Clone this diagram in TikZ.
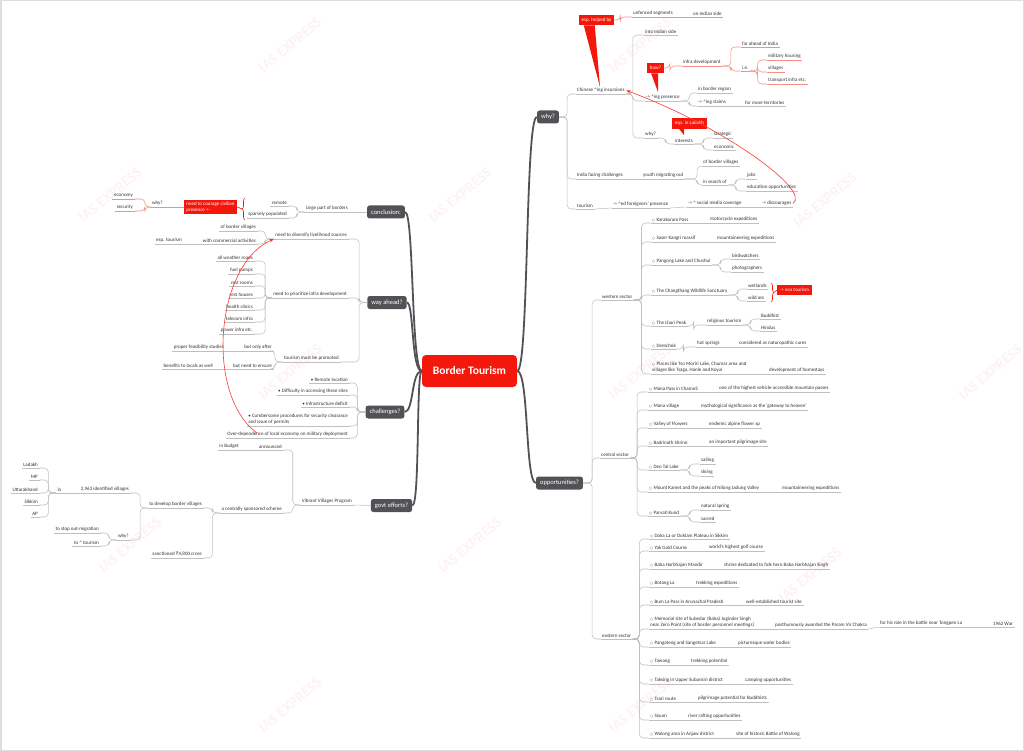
\documentclass[tikz,border=0pt]{standalone}
\usepackage{fontspec}
\setmainfont{Carlito}
\newfontfamily\symfont{DejaVu Sans}
\newfontfamily\rupeefont{Noto Sans}
\usetikzlibrary{
    arrows.meta,
    calc,
    decorations.pathreplacing
}
\definecolor{ink}{RGB}{50,50,50}
\definecolor{wiregrey}{RGB}{192,192,192}
\definecolor{hubgrey}{RGB}{82,82,86}
\definecolor{alert}{RGB}{244,24,12}
\definecolor{salmon}{RGB}{246,142,130}
\definecolor{framegrey}{RGB}{222,222,222}
\definecolor{stampred}{RGB}{254,242,242}

\newcommand{\circbul}{{\symfont\fontsize{3.4}{4}\selectfont ○}\hspace{1.4pt}}
\newcommand{\up}{\textasciicircum}
\newcommand{\rupee}{{\rupeefont ₹}}

\tikzset{
    line cap=round,
    line join=round,
    leafbase/.style={
        font=\fontsize{5}{6}\selectfont,
        text=ink,
        inner xsep=1.5pt,
        inner ysep=1.2pt,
        align=left
    },
    uline/.style={
        append after command={(\tikzlastnode.south west) edge[draw=#1, line width=0.55pt] (\tikzlastnode.south east)}
    },
    leaf/.style={leafbase, uline=wiregrey, anchor=south west},
    lleaf/.style={leafbase, uline=wiregrey, anchor=south east},
    rleaf/.style={leafbase, uline=salmon, anchor=south west},
    lrleaf/.style={leafbase, uline=salmon, anchor=south east},
    hub/.style={
        fill=hubgrey,
        text=white,
        rounded corners=2.5pt,
        font=\fontsize{6.5}{7}\selectfont,
        inner xsep=4pt,
        minimum height=13pt
    },
    core/.style={
        fill=alert,
        text=white,
        rounded corners=4pt,
        font=\bfseries\fontsize{11.5}{13}\selectfont,
        minimum width=95pt,
        minimum height=32pt
    },
    callout/.style={
        fill=alert,
        text=white,
        font=\fontsize{5}{6}\selectfont,
        inner xsep=2.6pt,
        inner ysep=2pt,
        minimum height=10.5pt,
        align=left
    },
    wire/.style={draw=wiregrey, line width=0.55pt, rounded corners=4pt},
    redwire/.style={draw=salmon, line width=0.55pt, rounded corners=4pt},
    limb/.style={draw=hubgrey, line width=1.8pt},
    relation/.style={
        draw=alert!85,
        line width=0.6pt,
        -{Stealth[length=4.5pt, width=3.5pt]}
    },
    bracket/.style={
        draw=alert,
        line width=0.6pt,
        decorate,
        decoration={brace, amplitude=3pt}
    },
    watermark/.style={
        text=stampred,
        font=\bfseries\fontsize{15}{15}\selectfont,
        rotate=40
    }
}

\begin{document}
\begin{tikzpicture}[x=1pt, y=-1pt]

\useasboundingbox (0,0) rectangle (1024,751);
\fill[white] (0,0) rectangle (1024,751);
\draw[framegrey, line width=1.5pt] (0.75,0.75) rectangle (1023.25,750.25);

% watermarks
\foreach \wx/\wy [count=\i] in {290/45, 640/45, 110/195, 460/195, 825/200,
        290/372, 640/372, 990/372, 130/545, 470/545, 810/575, 290/705, 640/705}
    \node[watermark] (wm\i) at (\wx,\wy) {IAS EXPRESS};

% centre and main topics
\node[core] (bt) at (469.5,371) {Border Tourism};
\node[hub] (why) at (548,117) {why?};
\node[hub] (opp) at (559.5,483) {opportunities?};
\node[hub] (concl) at (386,212) {conclusion:};
\node[hub] (way) at (387,302.5) {way ahead?};
\node[hub] (chal) at (385,412) {challenges?};
\node[hub] (govt) at (391.5,505.5) {govt efforts?};

\draw[limb] (bt.east) .. controls (529,371) and (525,117) .. (why.west);
\draw[limb] (bt.east) .. controls (529,371) and (525,483) .. (opp.west);
\draw[limb] (bt.west) .. controls (411,371) and (414,212) .. (concl.east);
\draw[limb] (bt.west) .. controls (411,371) and (414,302) .. (way.east);
\draw[limb] (bt.west) .. controls (411,371) and (414,412) .. (chal.east);
\draw[limb] (bt.west) .. controls (416,371) and (420,505) .. (govt.east);

% why?
\node[leaf] (chin) at (575.5,94) {Chinese \up ing incursions};
\node[leaf] (indch) at (575.5,179) {India facing challenges};
\node[leaf] (tour) at (575.5,209) {tourism};
\foreach \c in {chin,indch,tour}
    \draw[wire] (why.east) -- ++(8,0) |- (\c.south west);

\node[leaf] (into) at (643.5,35) {into Indian side};
\node[leaf] (pres) at (644.5,101) {-> \up ing presence};
\node[leaf] (cwhy) at (643.5,138) {why?};
\foreach \c in {into,pres,cwhy}
    \draw[wire] (chin.south east) -- ++(6.5,0) |- (\c.south west);

\node[leaf] (bord) at (696.5,93) {in border region};
\node[leaf] (claim) at (696.5,106) {-> \up ing claims};
\foreach \c in {bord,claim}
    \draw[wire] (pres.south east) -- ++(8,0) |- (\c.south west);
\node[leaf] (terr) at (743.5,106) {for more territories};
\draw[wire] (claim.south east) -- (terr.south west);

\node[leaf] (inter) at (673.5,144) {interests};
\draw[wire] (cwhy.south east) -- ++(8,0) |- (inter.south west);
\node[leaf] (strat) at (712.5,138) {strategic};
\node[leaf] (econ) at (712.5,150) {economic};
\foreach \c in {strat,econ}
    \draw[wire] (inter.south east) -- ++(9,0) |- (\c.south west);

% callouts on the incursions
\node[callout] (helped) at (596.5,20) {esp. helped by};
\coordinate (helpedtip) at (600,87);
\fill[alert] ([xshift=5pt]helped.south west) -- ([xshift=16pt]helped.south west) -- (helpedtip) -- cycle;
\node[rleaf] (unf) at (631.5,17) {unfenced segments};
\node[rleaf] (oind) at (691.5,17) {on Indian side};
\draw[redwire] (helped.east) -- ++(6,0) |- (unf.south west);
\draw[redwire] (unf.south east) -- (oind.south west);

\node[callout] (how) at (655.5,68) {how?};
\coordinate (howtip) at (658,92);
\fill[alert] ([xshift=4pt]how.south west) -- ([xshift=11pt]how.south west) -- (howtip) -- cycle;
\node[rleaf] (infra) at (681.5,66) {infra development};
\draw[redwire] (how.east) -- ++(6,0) |- (infra.south west);
\node[rleaf] (far) at (740.5,47) {far ahead of India};
\node[rleaf] (ie) at (740.5,71) {i.e.};
\foreach \c in {far,ie}
    \draw[redwire] (infra.south east) -- ++(8.5,0) |- (\c.south west);
\node[rleaf] (mil) at (766.5,60) {military housing};
\node[rleaf] (vill) at (766.5,72) {villages};
\node[rleaf] (trans) at (766.5,84) {transport infra etc.};
\foreach \c in {mil,vill,trans}
    \draw[redwire] (ie.south east) -- ++(7.5,0) |- (\c.south west);

\node[callout] (ladakh) at (689.5,123.5) {esp. in Ladakh};
\coordinate (ladakhtip) at (684,135);
\fill[alert] ([xshift=7pt]ladakh.south west) -- ([xshift=12pt]ladakh.south west) -- (ladakhtip) -- cycle;

\node[leaf] (youth) at (641.5,179) {youth migrating out};
\draw[wire] (indch.south east) -- (youth.south west);
\node[leaf] (obv) at (701.5,166) {of border villages};
\node[leaf] (srch) at (701.5,185) {in search of};
\foreach \c in {obv,srch}
    \draw[wire] (youth.south east) -- ++(12,0) |- (\c.south west);
\node[leaf] (jobs) at (745.5,179) {jobs};
\node[leaf] (edu) at (745.5,191) {education opportunities};
\foreach \c in {jobs,edu}
    \draw[wire] (srch.south east) -- ++(7.5,0) |- (\c.south west);

\node[leaf] (fore) at (611.5,208) {-> \up ed foreigners' presence};
\node[leaf] (media) at (686.5,207) {-> \up{} social media coverage};
\node[leaf] (disc) at (760.5,207) {-> discourages};
\draw[wire] (tour.south east) -- (fore.south west);
\draw[wire] (fore.south east) -- (media.south west);
\draw[wire] (media.south east) -- (disc.south west);

\draw[relation] (disc.east) .. controls (812,190) and (720,125) .. (chin.east);

% opportunities?
\node[leaf] (west) at (600.5,300) {western sector};
\node[leaf] (cent) at (599.5,458) {central sector};
\node[leaf] (east) at (600.5,639) {eastern sector};
\foreach \c in {west,cent,east}
    \draw[wire] (opp.east) -- ++(9,0) |- (\c.south west);

% western sector
\node[leaf] (kara) at (650.5,223) {\circbul Karakoram Pass};
\node[leaf] (saser) at (650.5,242) {\circbul Saser Kangri massif};
\node[leaf] (pang) at (650.5,265) {\circbul Pangong Lake and Chushul};
\node[leaf] (chang) at (650.5,295) {\circbul The Changthang Wildlife Sanctuary};
\node[leaf] (lhari) at (650.5,326) {\circbul The Lhari Peak};
\node[leaf] (dem) at (650.5,349) {\circbul Demchok};
\node[leaf] (places) at (650.5,374) {\circbul Places like Tso Moriri Lake, Chumar area and\\villages like Tsaga, Hanle and Koyul};
\foreach \c in {kara,saser,pang,chang,lhari,dem,places}
    \draw[wire] (west.south east) -- ++(7.5,0) |- (\c.south west);

\node[leaf] (moto) at (708.5,223) {motorcycle expeditions};
\draw[wire] (kara.south east) -- (moto.south west);
\node[leaf] (smount) at (715.5,242) {mountaineering expeditions};
\draw[wire] (saser.south east) -- (smount.south west);
\node[leaf] (bird) at (730.5,259) {birdwatchers};
\node[leaf] (photo) at (730.5,272) {photographers};
\foreach \c in {bird,photo}
    \draw[wire] (pang.south east) -- ++(8.5,0) |- (\c.south west);
\node[leaf] (wet) at (746.5,289) {wetlands};
\node[leaf] (ass) at (746.5,301) {wild ass};
\foreach \c in {wet,ass}
    \draw[wire] (chang.south east) -- ++(8.5,0) |- (\c.south west);

\coordinate (ecotop) at (771,283);
\coordinate (ecobot) at (771,302);
\coordinate (ecotip) at (774,292.5);
\draw[bracket] (ecotop) -- (ecobot);
\node[callout] (eco) at (794.5,290) {-> eco tourism};
\draw[alert, line width=0.6pt] (ecotip) -- (eco.west);

\node[leaf] (relig) at (705.5,325) {religious tourism};
\draw[wire] (lhari.south east) -- ++(6,0) |- (relig.south west);
\node[leaf] (budd) at (759.5,319) {Buddhist};
\node[leaf] (hind) at (759.5,331) {Hindus};
\foreach \c in {budd,hind}
    \draw[wire] (relig.south east) -- ++(7.5,0) |- (\c.south west);
\node[leaf] (hot) at (695.5,347) {hot springs};
\draw[wire] (dem.south east) -- ++(6,0) |- (hot.south west);
\node[leaf] (natur) at (737.5,347) {considered as naturopathic cures};
\draw[wire] (hot.south east) -- (natur.south west);
\node[leaf] (home) at (767.5,374) {development of homestays};
\draw[wire] (places.south east) -- (home.south west);

% central sector
\node[leaf] (mana) at (647.5,392) {\circbul Mana Pass in Chamoli};
\node[leaf] (manav) at (647.5,410) {\circbul Mana village};
\node[leaf] (valley) at (647.5,428) {\circbul Valley of Flowers};
\node[leaf] (badri) at (647.5,446) {\circbul Badrinath Shrine};
\node[leaf] (deo) at (647.5,470) {\circbul Deo Tal Lake};
\node[leaf] (kamet) at (647.5,492) {\circbul Mount Kamet and the peaks of Nilong Jadung Valley};
\node[leaf] (parv) at (647.5,516) {\circbul Parvati Kund};
\foreach \c in {mana,manav,valley,badri,deo,kamet,parv}
    \draw[wire] (cent.south east) -- ++(6.5,0) |- (\c.south west);

\node[leaf] (mpass) at (717.5,392) {one of the highest vehicle-accessible mountain passes};
\draw[wire] (mana.south east) -- (mpass.south west);
\node[leaf] (myth) at (699.5,410) {mythological significance as the 'gateway to heaven'};
\draw[wire] (manav.south east) -- (myth.south west);
\node[leaf] (endem) at (707.5,428) {endemic alpine flower sp};
\draw[wire] (valley.south east) -- (endem.south west);
\node[leaf] (pilg) at (707.5,446) {an important pilgrimage site};
\draw[wire] (badri.south east) -- (pilg.south west);
\node[leaf] (sail) at (699.5,464) {sailing};
\node[leaf] (ski) at (699.5,476) {skiing};
\foreach \c in {sail,ski}
    \draw[wire] (deo.south east) -- ++(9,0) |- (\c.south west);
\node[leaf] (kmount) at (780.5,492) {mountaineering expeditions};
\draw[wire] (kamet.south east) -- (kmount.south west);
\node[leaf] (spring) at (699.5,510) {natural spring};
\node[leaf] (sacred) at (699.5,522) {sacred};
\foreach \c in {spring,sacred}
    \draw[wire] (parv.south east) -- ++(9,0) |- (\c.south west);

% eastern sector
\node[leaf] (doka) at (648.5,539) {\circbul Doka La or Doklam Plateau in Sikkim};
\node[leaf] (yak) at (648.5,551) {\circbul Yak Gold Course};
\node[leaf] (baba) at (648.5,569) {\circbul Baba Harbhajan Mandir};
\node[leaf] (botang) at (648.5,587) {\circbul Botang La};
\node[leaf] (bum) at (648.5,605) {\circbul Bum La Pass in Arunachal Pradesh};
\node[leaf] (memo) at (648.5,629) {\circbul Memorial site of Subedar (Baba) Joginder Singh\\near Zero Point (site of border personnel meetings)};
\node[leaf] (pangt) at (648.5,647) {\circbul Pangateng and Sangetsar Lake};
\node[leaf] (tawang) at (648.5,665) {\circbul Tawang};
\node[leaf] (taks) at (648.5,684) {\circbul Taksing in Upper Subansiri district};
\node[leaf] (tsari) at (648.5,702) {\circbul Tsari route};
\node[leaf] (siyum) at (648.5,720) {\circbul Siyum};
\node[leaf] (walong) at (648.5,738) {\circbul Walong area in Anjaw district};
\foreach \c in {doka,yak,baba,botang,bum,memo,pangt,tawang,taks,tsari,siyum,walong}
    \draw[wire] (east.south east) -- ++(6.5,0) |- (\c.south west);

\node[leaf] (golf) at (707.5,551) {world's highest golf course};
\draw[wire] (yak.south east) -- (golf.south west);
\node[leaf] (shrine) at (722.5,569) {shrine dedicated to folk hero Baba Harbhajan Singh};
\draw[wire] (baba.south east) -- (shrine.south west);
\node[leaf] (trek) at (694.5,587) {trekking expeditions};
\draw[wire] (botang.south east) -- (trek.south west);
\node[leaf] (est) at (744.5,605) {well-established tourist site};
\draw[wire] (bum.south east) -- (est.south west);
\node[leaf] (pvc) at (773.5,629) {posthumously awarded the Param Vir Chakra};
\draw[wire] (memo.south east) -- (pvc.south west);
\node[leaf] (role) at (878.5,627) {for his role in the battle near Tongpen La};
\draw[wire] (pvc.south east) -- (role.south west);
\node[leaf] (war) at (991.5,627) {1962 War};
\draw[wire] (role.south east) -- (war.south west);
\node[leaf] (water) at (736.5,647) {picturesque water bodies};
\draw[wire] (pangt.south east) -- (water.south west);
\node[leaf] (tpot) at (689.5,665) {trekking potential};
\draw[wire] (tawang.south east) -- (tpot.south west);
\node[leaf] (camp) at (743.5,684) {camping opportunities};
\draw[wire] (taks.south east) -- (camp.south west);
\node[leaf] (budp) at (696.5,702) {pilgrimage potential for Buddhists};
\draw[wire] (tsari.south east) -- (budp.south west);
\node[leaf] (raft) at (686.5,720) {river rafting opportunities};
\draw[wire] (siyum.south east) -- (raft.south west);
\node[leaf] (battle) at (734.5,738) {site of historic Battle of Walong};
\draw[wire] (walong.south east) -- (battle.south west);

% conclusion:
\node[lleaf] (large) at (349.5,212) {large part of borders};
\draw[wire] (concl.west) -- (large.south east);
\node[lleaf] (remote) at (288.5,206) {remote};
\node[lleaf] (sparse) at (288.5,218) {sparsely populated};
\foreach \c in {remote,sparse}
    \draw[wire] (large.south west) -- ++(-7.5,0) |- (\c.south east);

\coordinate (brbot) at (245,220);
\coordinate (brtop) at (245,198);
\coordinate (brtip) at (242,209);
\draw[bracket] (brbot) -- (brtop);
\node[callout] (courage) at (210.5,207) {need to courage civilian\\presence <-};
\draw[alert, line width=0.6pt] (brtip) -- (courage.east);
\node[lrleaf] (lwhy) at (164.5,207) {why?};
\draw[redwire] (courage.west) -- (lwhy.south east);
\node[lrleaf] (econ2) at (134.5,199) {economy};
\node[lrleaf] (secur) at (134.5,211) {security};
\foreach \c in {econ2,secur}
    \draw[redwire] (lwhy.south west) -- ++(-5.5,0) |- (\c.south east);

% way ahead?
\node[lleaf] (divers) at (348.5,239) {need to diversify livelihood sources};
\node[lleaf] (prior) at (348.5,298) {need to prioritize infra development};
\node[lleaf] (promo) at (340.5,362) {tourism must be promoted};
\foreach \c in {divers,prior,promo}
    \draw[wire] (way.west) -- ++(-8,0) |- (\c.south east);

\node[lleaf] (obv2) at (257.5,231) {of border villages};
\node[lleaf] (comm) at (257.5,244) {with commercial activities};
\foreach \c in {obv2,comm}
    \draw[wire] (divers.south west) -- ++(-8.5,0) |- (\c.south east);
\node[lleaf] (esp) at (183.5,244) {esp. tourism};
\draw[wire] (comm.south west) -- (esp.south east);

\node[lleaf] (roads) at (254.5,261) {all weather roads};
\node[lleaf] (fuel) at (254.5,274) {fuel pumps};
\node[lleaf] (restr) at (254.5,286) {rest rooms};
\node[lleaf] (resth) at (254.5,298) {rest houses};
\node[lleaf] (health) at (254.5,310) {health clinics};
\node[lleaf] (tele) at (254.5,322) {telecom infra};
\node[lleaf] (power) at (254.5,334) {power infra etc.};
\foreach \c in {roads,fuel,restr,resth,health,tele,power}
    \draw[wire] (prior.south west) -- ++(-6.5,0) |- (\c.south east);

\node[lleaf] (only) at (273.5,351) {but only after};
\node[lleaf] (ensure) at (273.5,369) {but need to ensure};
\foreach \c in {only,ensure}
    \draw[wire] (promo.south west) -- ++(-7.5,0) |- (\c.south east);
\node[lleaf] (feas) at (225.5,351) {proper feasibility studies};
\draw[wire] (only.south west) -- (feas.south east);
\node[lleaf] (benef) at (214.5,369) {benefits to locals as well};
\draw[wire] (ensure.south west) -- (benef.south east);

% challenges?
\node[lleaf] (remloc) at (349.5,383) {• Remote location};
\node[lleaf] (diff) at (349.5,395) {• Difficulty in accessing these sites};
\node[lleaf] (infdef) at (349.5,407) {• Infrastructure deficit};
\node[lleaf] (cumb) at (349.5,426) {• Cumbersome procedures for security clearance\\and issue of permits};
\node[lleaf] (over) at (349.5,438) {Over-dependence of local economy on military deployment};
\foreach \c in {remloc,diff,infdef,cumb,over}
    \draw[wire] (chal.west) -- ++(-8,0) |- (\c.south east);

\coordinate (overstart) at (257,433);
\draw[relation] (overstart) .. controls (205,395) and (215,265) .. (divers.south west);

% govt efforts?
\node[lleaf] (vvp) at (353.5,505) {Vibrant Villages Program};
\draw[wire] (govt.west) -- (vvp.south east);
\node[lleaf] (annc) at (283.5,450) {announced};
\node[lleaf] (css) at (283.5,513) {a centrally sponsored scheme};
\foreach \c in {annc,css}
    \draw[wire] (vvp.south west) -- ++(-7.5,0) |- (\c.south east);
\node[lleaf] (budget) at (240.5,450) {in Budget};
\draw[wire] (annc.south west) -- (budget.south east);

\node[lleaf] (devel) at (203.5,508) {to develop border villages};
\node[lleaf] (sanc) at (203.5,558) {sanctioned \rupee4,800 crore};
\foreach \c in {devel,sanc}
    \draw[wire] (css.south west) -- ++(-7.5,0) |- (\c.south east);

\node[lleaf] (ident) at (130.5,493) {2,963 identified villages};
\node[lleaf] (gwhy) at (130.5,540) {why?};
\foreach \c in {ident,gwhy}
    \draw[wire] (devel.south west) -- ++(-7.5,0) |- (\c.south east);

\node[lleaf] (in) at (63,493) {in};
\draw[wire] (ident.south west) -- (in.south east);
\node[lleaf] (ladk) at (39.5,468) {Ladakh};
\node[lleaf] (mp) at (39.5,480) {MP};
\node[lleaf] (uttar) at (39.5,493) {Uttarakhand};
\node[lleaf] (sikkim) at (39.5,505) {Sikkim};
\node[lleaf] (ap) at (39.5,517) {AP};
\foreach \c in {ladk,mp,uttar,sikkim,ap}
    \draw[wire] (in.south west) -- ++(-7.5,0) |- (\c.south east);

\node[lleaf] (stop) at (100.5,533) {to stop out-migration};
\node[lleaf] (totour) at (100.5,546) {to \up{} tourism};
\foreach \c in {stop,totour}
    \draw[wire] (gwhy.south west) -- ++(-7.5,0) |- (\c.south east);

\end{tikzpicture}
\end{document}
